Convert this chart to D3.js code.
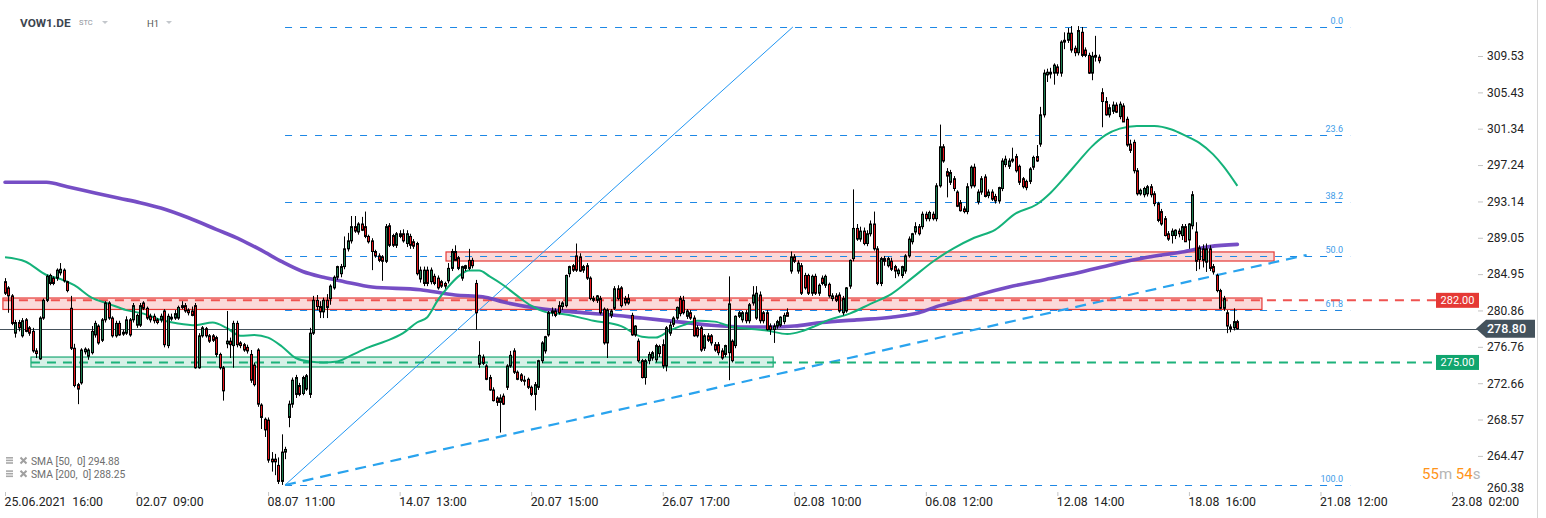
<!DOCTYPE html>
<html><head><meta charset="utf-8">
<script src="https://cdn.jsdelivr.net/npm/d3@7"></script>
<style>
html,body{margin:0;padding:0;background:#fff;}
svg{display:block;font-family:Roboto,"Noto Sans",sans-serif;}
text{white-space:pre;}
</style></head><body>
<svg id="c" width="1546" height="518"></svg>
<script>
// ---------- DATA ----------
// hourly candles [open, high, low, close]
const candles = [
[284.1,284.5,282.6,282.8],[283.4,283.6,280.6,282.5],[282.5,282.7,279.2,279.4],[278.3,279.8,277.8,279.5],[279.5,279.8,278.5,278.9],
[278.0,280.0,277.8,279.7],[279.8,280.0,278.4,278.5],[278.9,279.1,278.0,278.3],[278.5,278.9,276.1,276.3],[276.3,276.6,275.5,276.0],
[275.4,280.2,275.3,280.0],[280.0,282.2,279.8,282.0],[282.0,284.9,281.8,284.7],[283.9,285.0,283.7,284.8],[284.5,284.7,283.7,283.9],
[284.5,285.6,284.2,285.4],[285.1,286.2,284.8,285.5],[285.4,285.6,284.0,284.2],[284.1,284.2,282.9,283.1],[281.1,282.5,276.4,276.6],
[276.6,277.1,272.2,272.4],[272.5,272.7,270.3,272.0],[272.7,276.6,272.5,276.4],[276.2,276.7,275.9,276.5],[275.7,276.6,275.3,276.4],
[276.1,279.1,275.9,278.5],[278.1,279.7,277.8,279.4],[279.1,279.3,277.0,277.2],[277.5,280.0,277.3,279.8],[279.8,281.9,279.5,281.7],
[281.7,281.9,279.8,280.0],[280.0,280.2,277.8,278.0],[278.0,279.7,277.8,279.4],[279.4,279.7,278.0,278.1],[278.2,278.7,278.0,278.4],
[278.3,280.2,278.1,279.8],[279.8,280.0,277.9,278.1],[279.8,281.7,279.5,281.4],[279.2,280.5,278.9,280.3],[279.2,281.7,279.0,281.4],
[281.7,281.9,280.9,281.1],[281.1,281.3,279.8,280.0],[280.2,280.5,279.5,279.8],[280.2,280.5,279.4,279.7],[279.8,280.0,279.3,279.5],
[279.8,280.5,279.5,280.2],[280.8,281.0,276.7,277.0],[276.9,280.5,276.6,280.2],[279.9,280.5,279.7,280.1],[280.0,280.9,279.8,280.5],
[280.0,281.4,279.8,281.2],[281.4,281.9,281.0,281.2],[281.4,281.7,280.6,280.8],[280.9,281.1,280.3,280.6],[280.8,281.3,280.2,280.3],
[281.4,281.7,274.3,274.4],[274.4,278.3,274.3,278.0],[278.0,279.1,277.8,278.9],[278.8,279.0,277.8,278.0],[278.0,278.2,277.2,277.4],
[278.0,278.2,277.3,277.5],[277.8,278.0,275.6,275.9],[275.9,276.1,274.2,274.4],[274.4,274.6,270.7,271.8],[277.1,280.8,276.6,277.4],
[277.4,277.8,275.5,277.0],[276.9,279.7,274.4,279.4],[279.4,279.7,276.7,277.0],[277.2,277.4,276.6,276.9],[277.0,277.2,276.2,276.4],
[276.7,277.0,276.0,276.3],[275.9,276.4,272.7,273.0],[274.7,275.0,272.3,272.5],[276.4,276.6,270.0,270.3],[270.2,270.4,267.5,268.8],
[268.6,268.8,266.6,267.4],[268.5,268.8,263.7,264.0],[264.1,264.9,262.7,263.8],[264.1,264.7,262.3,263.8],[263.4,264.3,261.3,261.6],
[261.6,266.9,261.2,264.9],[264.9,265.5,264.1,265.2],[268.8,270.7,267.7,270.3],[270.3,273.3,269.9,273.0],[271.4,273.6,271.0,273.3],
[272.4,272.7,271.2,271.4],[271.5,273.5,271.3,273.3],[272.0,273.7,271.8,273.5],[271.4,278.9,271.0,278.3],[278.3,282.5,278.1,282.0],
[282.0,282.6,280.9,281.3],[281.3,281.9,280.0,280.7],[280.7,282.3,280.0,282.0],[282.0,282.7,280.0,281.2],[282.2,283.8,281.5,283.6],
[283.4,284.8,283.2,284.6],[284.6,285.9,284.3,285.8],[285.0,286.1,284.6,285.8],[285.8,289.2,285.5,287.8],[287.8,289.6,287.5,288.7],
[288.7,291.5,288.4,290.3],[290.3,291.5,289.6,289.8],[289.7,290.8,289.4,290.6],[290.6,291.4,289.8,289.9],[290.3,292.0,289.0,289.2],
[289.2,289.4,288.4,288.6],[288.7,289.0,285.4,287.5],[287.5,287.7,286.8,287.0],[287.0,287.3,286.3,286.5],[286.9,287.1,284.2,286.4],
[286.4,290.6,286.2,290.3],[290.4,290.7,288.0,288.2],[289.3,289.5,288.0,288.2],[288.2,289.7,287.9,289.5],[289.5,289.9,289.0,289.2],
[289.5,290.0,288.5,288.7],[288.4,289.9,288.0,289.5],[289.2,289.5,287.8,288.2],[288.6,288.9,287.8,288.1],[288.4,288.6,284.8,285.0],
[284.4,285.8,284.0,285.4],[283.9,285.8,283.6,285.4],[285.4,285.8,283.6,283.9],[284.1,285.7,283.8,285.4],[284.7,285.0,283.7,283.9],
[284.5,284.8,283.2,283.4],[284.1,284.3,283.4,283.6],[283.9,284.1,283.3,283.6],[284.2,286.2,283.9,285.6],[285.6,287.8,285.3,287.5],
[287.5,288.2,286.5,286.5],[286.8,287.0,285.4,285.6],[284.5,285.9,284.2,285.8],[285.6,286.0,285.3,285.9],[286.5,287.8,285.4,285.6],
[286.5,286.8,285.6,285.9],[283.9,284.3,278.7,280.6],[274.8,277.4,274.4,275.8],[275.6,275.9,274.7,274.9],[274.6,274.8,273.0,273.1],
[273.3,273.6,271.8,271.9],[271.9,272.2,270.6,270.7],[271.0,271.2,270.1,270.5],[270.5,271.4,267.1,271.0],[271.2,271.5,270.2,270.3],
[272.2,274.8,271.9,274.6],[274.6,276.3,274.4,275.8],[276.3,276.6,273.7,273.9],[273.9,274.1,273.0,273.1],[273.6,273.8,272.8,273.0],
[273.0,273.5,272.4,272.9],[273.1,273.3,272.0,272.2],[272.2,272.4,271.2,271.4],[271.4,272.8,269.6,272.5],[272.2,275.3,271.9,275.2],
[275.2,277.4,274.9,277.2],[276.3,278.0,276.0,277.9],[278.1,280.8,277.9,280.6],[280.6,281.2,280.2,280.8],[280.8,281.1,280.1,280.3],
[281.4,281.9,280.4,280.6],[281.3,281.9,280.9,281.7],[281.4,284.9,281.2,284.8],[285.0,285.9,284.6,285.8],[285.9,286.1,285.2,285.4],
[287.0,288.4,285.2,285.4],[286.9,287.3,285.2,285.3],[285.4,286.0,285.1,285.8],[285.9,286.2,284.3,284.5],[284.5,284.7,282.0,282.2],
[282.2,282.5,281.8,282.0],[282.0,282.6,281.7,282.5],[282.2,282.5,280.4,280.6],[281.0,281.2,277.0,277.2],[277.2,281.1,275.5,280.9],
[280.3,281.0,280.0,280.8],[281.1,283.6,280.9,283.3],[283.3,283.7,282.0,282.2],[283.4,283.6,281.2,281.4],[282.2,282.5,281.4,281.7],
[282.2,282.7,281.5,281.7],[280.3,280.6,278.0,278.1],[278.1,279.2,277.9,279.1],[277.4,277.7,275.0,275.2],[275.2,275.4,273.2,273.3],
[273.3,275.4,272.5,275.2],[275.2,276.2,274.8,275.9],[275.5,276.3,275.2,276.1],[275.3,277.1,275.0,276.9],[276.0,277.0,275.6,276.8],
[277.0,277.6,274.3,274.6],[274.6,279.1,274.0,278.9],[278.3,279.6,278.0,279.2],[279.3,280.2,279.0,280.0],[280.0,281.3,279.8,281.2],
[282.2,282.5,280.2,280.5],[282.0,282.5,280.4,280.6],[280.2,281.0,279.9,280.8],[280.6,280.9,279.8,280.0],[280.0,280.3,277.9,278.0],
[278.9,279.2,277.8,278.0],[278.9,279.1,276.2,276.4],[276.6,278.2,276.3,278.0],[278.0,278.3,277.3,277.5],[278.0,278.2,276.9,277.2],
[277.0,277.3,276.2,276.4],[277.0,277.3,275.8,276.1],[276.3,276.6,275.3,275.5],[275.9,277.0,275.6,276.9],[276.1,284.7,273.0,281.6],
[277.4,277.6,275.0,275.2],[276.9,280.3,276.6,280.2],[280.2,280.8,280.0,280.6],[279.8,280.8,279.5,280.6],[280.6,280.9,279.4,279.7],
[279.7,281.7,279.4,281.5],[281.7,283.6,281.4,282.6],[280.0,283.6,279.8,282.8],[282.6,283.0,279.4,279.7],[280.6,280.8,279.4,279.7],
[280.6,280.9,278.6,278.7],[279.1,279.4,278.1,278.7],[278.7,279.4,277.2,279.1],[279.1,279.8,278.8,279.6],[279.2,280.2,279.0,280.1],
[279.6,280.6,279.3,280.3],[280.6,281.1,280.2,280.2],[285.3,287.5,285.0,286.9],[286.9,287.2,286.2,286.4],[285.3,286.5,285.0,286.2],
[285.9,286.2,282.6,282.8],[284.8,285.1,283.2,283.4],[284.8,285.0,282.6,282.8],[282.8,284.9,282.5,284.7],[284.7,285.0,282.6,282.8],
[282.8,283.9,282.5,283.7],[284.5,284.8,283.7,283.9],[283.7,284.9,283.4,284.7],[283.8,284.0,282.3,282.5],[282.2,282.8,281.9,282.5],
[282.5,282.8,281.8,282.0],[282.6,282.9,280.6,280.8],[280.6,282.5,280.3,282.2],[280.8,283.5,280.6,283.4],[283.6,286.6,283.3,286.5],
[286.7,294.5,286.4,290.1],[290.1,290.6,288.7,288.9],[288.9,290.3,288.6,289.8],[289.8,290.2,288.2,288.4],[288.4,289.9,288.1,289.5],
[289.5,291.0,289.2,290.6],[290.6,292.0,287.6,287.8],[287.8,288.1,283.7,283.9],[283.9,286.9,283.6,286.7],[286.7,287.0,285.9,286.4],
[285.9,286.9,285.7,286.7],[286.4,286.8,285.3,285.5],[285.8,286.0,284.5,285.3],[285.0,285.6,284.7,285.4],[284.8,285.9,284.5,285.8],
[285.3,287.2,285.0,287.0],[287.0,289.2,286.8,288.9],[288.6,289.6,288.3,289.5],[289.7,290.8,289.4,290.3],[290.3,290.6,289.3,289.5],
[290.3,292.0,290.0,291.7],[291.7,292.0,290.9,291.2],[291.2,292.1,290.9,291.9],[291.7,292.0,291.0,291.2],[291.2,295.2,290.9,294.9],
[294.9,301.8,294.7,299.3],[299.3,299.6,297.5,297.7],[296.5,296.9,293.6,296.0],[295.3,296.7,295.0,296.4],[295.7,296.0,294.3,294.6],
[294.2,294.4,292.5,292.6],[293.0,293.3,292.0,292.1],[292.3,292.6,291.8,292.0],[292.0,295.2,291.7,294.8],[294.9,297.2,294.6,297.0],
[297.0,297.4,294.7,294.9],[293.1,294.5,292.8,294.2],[294.2,296.0,293.9,295.7],[295.9,296.2,293.6,293.7],[293.8,294.5,293.5,294.2],
[294.2,294.5,293.2,293.4],[293.7,294.0,292.9,293.2],[293.2,294.8,292.9,294.7],[294.6,298.0,294.3,297.7],[297.3,298.3,297.0,297.9],
[297.1,298.0,296.8,297.7],[297.9,299.2,297.5,297.7],[298.2,298.5,296.4,296.6],[297.1,297.3,295.0,295.3],[295.7,295.9,294.6,294.8],
[295.4,295.6,294.4,294.7],[295.4,297.0,295.1,296.8],[297.0,298.3,296.7,298.1],[298.2,299.5,297.6,297.7],[299.6,303.8,299.3,302.9],
[302.9,308.0,302.6,307.6],[307.4,308.1,306.6,307.7],[307.7,308.2,307.0,307.5],[307.6,308.7,306.3,308.5],[308.3,308.6,307.3,307.6],
[307.6,311.3,307.2,311.1],[311.1,312.2,310.3,311.3],[311.3,312.7,311.0,312.1],[312.1,312.9,309.9,310.2],[310.4,310.7,309.5,309.9],
[309.9,312.9,309.6,312.4],[312.2,312.8,309.4,309.6],[310.2,310.5,309.4,309.6],[309.6,309.9,307.5,307.6],[307.6,310.0,306.8,309.5],
[309.6,311.8,308.9,309.4],[309.4,309.7,308.7,309.0],[305.4,305.9,301.5,304.4],[304.4,304.9,302.8,302.9],[302.9,304.1,302.6,303.7],
[303.3,304.4,303.0,304.0],[304.0,304.3,303.1,303.2],[302.7,304.4,302.4,304.1],[303.9,304.2,302.1,302.1],[302.4,302.7,299.3,299.5],
[299.6,300.1,298.6,298.9],[299.8,300.1,296.3,296.6],[296.6,296.9,293.8,294.0],[294.0,294.6,293.8,294.4],[293.9,294.8,293.6,294.6],
[294.0,295.0,293.7,294.8],[294.8,295.1,293.6,293.9],[294.0,294.3,292.6,292.9],[292.9,293.1,290.8,291.0],[292.0,292.3,290.4,290.6],
[291.2,291.5,289.2,289.3],[289.5,289.8,288.7,288.9],[289.3,290.1,288.4,289.8],[289.3,290.0,288.9,289.9],[289.8,290.1,289.1,289.5],
[289.3,290.6,288.8,290.3],[290.3,290.6,288.6,288.6],[288.8,290.7,287.8,290.6],[290.4,294.3,290.0,293.9],[289.7,290.8,285.3,286.4],
[286.6,288.2,285.5,287.9],[287.8,288.3,285.7,286.5],[286.3,288.4,285.2,287.8],[287.8,288.2,285.3,285.6],[285.8,286.1,284.9,285.2],
[284.8,285.0,282.9,283.1],[283.1,283.3,281.0,281.1],[281.1,282.5,280.8,282.2],[280.6,280.9,278.3,279.1],[279.0,279.3,278.4,278.8],
[278.9,281.1,278.6,279.6],[279.6,279.8,278.7,278.8]
];
const xTickBars = [0,38,76,114,152,190,228,266,304,342,380,418];
const xTickLabels = ["25.06.2021  16:00","02.07  09:00","08.07  11:00","14.07  13:00","20.07  15:00","26.07  17:00","02.08  10:00","06.08  12:00","12.08  14:00","18.08  16:00","21.08  12:00","23.08  02:00"];
const yTicks = [309.53,305.43,301.34,297.24,293.14,289.05,284.95,280.86,276.76,272.66,268.57,264.47,260.38];
const sma50Bars = [0,6,12,16,20,25,30,35,40,45,50,55,60,64,68,72,76,80,84,88,92,96,100,105,110,115,119,122,125,128,131,134,137,140,144,148,152,156,162,170,178,184,188,192,196,200,205,210,215,220,226,230,234,238,244,250,256,262,268,274,280,286,292,298,302,306,310,314,318,322,327,332,337,341,345,349,352,356];
const sma50Vals = [286.85,286.35,284.85,284.4,283.7,282.3,281.6,280.9,280.5,279.8,279.4,279.2,279.5,278.9,278.0,278.1,277.8,276.8,275.5,275.1,275.0,275.1,275.8,276.7,277.4,278.3,279.5,280.1,282.0,283.5,284.7,285.35,285.35,284.7,283.7,282.5,281.4,280.7,280.4,279.7,279.1,277.9,277.8,278.6,279.2,279.7,279.6,279.0,278.8,278.6,278.2,278.5,279.1,279.8,280.5,281.6,282.7,284.5,286.35,287.85,289.05,289.95,291.8,292.8,294.1,295.8,297.6,299.35,300.65,301.35,301.65,301.65,301.25,300.55,299.75,298.45,297.1,294.9];
const sma200Bars = [0,12,18,26,33,39,45,53,61,68,74,80,86,92,98,106,120,130,138,144,154,164,174,184,194,204,214,222,228,236,246,256,264,270,276,282,290,300,310,320,330,340,348,356];
const sma200Vals = [295.3,295.3,294.8,294.1,293.5,293.0,292.4,291.3,290.0,288.85,287.65,286.35,285.25,284.6,284.1,283.5,283.2,282.6,282.4,281.8,281.1,280.7,280.4,280.0,279.6,279.2,279.0,279.0,279.1,279.5,279.8,280.1,280.6,281.4,282.0,282.7,283.5,284.3,285.1,286.05,286.85,287.45,288.05,288.3];
const fibRatios = [0, 23.6, 38.2, 50, 61.8, 100];
const fibLabels = ["0.0","23.6","38.2","50.0","61.8","100.0"];
const fibHigh = 312.80, fibLow = 261.19;
const fibBars = [80.9, 227.6];      // anchor bars of the fibonacci tool (low, high)
const fibExtendBar = 388.6;
const trendBars = [80.9, 376];      // dashed trend line
const trendPrices = [261.19, 287.11];
const redZoneLow = [280.97, 282.26], redZoneLowBars = [-0.6, 363.1];
const redZoneHigh = [286.43, 287.45], redZoneHighBars = [127.4, 366.6];
const greenZone = [274.49, 275.61], greenZoneBars = [7.5, 221.9];
const levelRed = 282.00, levelGreen = 275.00, lastPrice = 278.80;
const smaLegend = ["SMA [50,  0] 294.88", "SMA [200,  0] 288.25"];

// ---------- CHART ----------
const svg = d3.select('#c');
const x = d3.scaleLinear().domain([0, 418]).range([5, 1452]);
const y = d3.scaleLinear().domain([260.38, 309.53]).range([492.2, 56]);
const axisX = 1478;

svg.append('rect').attr('width',1546).attr('height',518).attr('fill','#fff');

// zones
function zone(bars, pr, fill, stroke){
  svg.append('rect')
    .attr('x', x(bars[0])).attr('width', x(bars[1]) - x(bars[0]))
    .attr('y', y(pr[1])).attr('height', y(pr[0]) - y(pr[1]))
    .attr('fill', fill).attr('stroke', stroke).attr('stroke-width', 1.2);
}
zone(redZoneLowBars, redZoneLow, 'rgba(239,83,80,0.22)', '#e53935');
zone(redZoneHighBars, redZoneHigh, 'rgba(239,83,80,0.22)', '#e53935');
zone(greenZoneBars, greenZone, 'rgba(26,178,122,0.18)', '#1aa872');

// last price line
svg.append('line').attr('x1',0).attr('x2',axisX).attr('y1',Math.round(y(lastPrice))+0.5).attr('y2',Math.round(y(lastPrice))+0.5)
  .attr('stroke','#46525c').attr('stroke-width',1);

// fib levels
const fg = svg.append('g');
fibRatios.forEach((r,i)=>{
  const p = fibHigh - r/100*(fibHigh-fibLow);
  const yy = Math.round(y(p))+0.5;
  fg.append('line').attr('x1',x(fibBars[0])).attr('x2',x(fibExtendBar)).attr('y1',yy).attr('y2',yy)
    .attr('stroke','#1e88e5').attr('stroke-width',1).attr('stroke-dasharray','7,8');
  fg.append('text').attr('x',1343).attr('y',yy-4).attr('text-anchor','end')
    .attr('fill','#3d9be9').style('font-size','9px').text(fibLabels[i]);
});
// fib diagonal
svg.append('line').attr('x1',x(fibBars[0])).attr('y1',y(fibLow)).attr('x2',x(fibBars[1])).attr('y2',y(fibHigh))
  .attr('stroke','#2196f3').attr('stroke-width',1);
// dashed trend line
svg.append('line').attr('x1',x(trendBars[0])).attr('y1',y(trendPrices[0])).attr('x2',x(trendBars[1])).attr('y2',y(trendPrices[1]))
  .attr('stroke','#29a3ee').attr('stroke-width',2.2).attr('stroke-dasharray','11,7');

// horizontal level lines
svg.append('line').attr('x1',x(redZoneLowBars[0])).attr('x2',1436).attr('y1',y(levelRed)).attr('y2',y(levelRed))
  .attr('stroke','#ef5350').attr('stroke-width',2).attr('stroke-dasharray','9,7');
svg.append('line').attr('x1',x(greenZoneBars[0])).attr('x2',1436).attr('y1',y(levelGreen)).attr('y2',y(levelGreen))
  .attr('stroke','#1db27a').attr('stroke-width',2).attr('stroke-dasharray','9,7');

// SMAs
const ln = d3.line().x(d=>x(d[0])).y(d=>y(d[1])).curve(d3.curveMonotoneX);
svg.append('path').datum(d3.zip(sma200Bars, sma200Vals)).attr('d', ln)
  .attr('fill','none').attr('stroke','#6a3fc0').attr('stroke-width',3.6).attr('stroke-opacity',0.92).attr('stroke-linecap','round');
svg.append('path').datum(d3.zip(sma50Bars, sma50Vals)).attr('d', ln)
  .attr('fill','none').attr('stroke','#14b27a').attr('stroke-width',2);

// candles
const cg = svg.append('g').selectAll('g').data(candles).join('g');
cg.append('line')
  .attr('x1',(d,i)=>Math.round(x(i))+0.5).attr('x2',(d,i)=>Math.round(x(i))+0.5)
  .attr('y1',d=>y(d[1])).attr('y2',d=>y(d[2])).attr('stroke','#000').attr('stroke-width',1);
cg.append('rect')
  .attr('x',(d,i)=>Math.round(x(i))-0.5).attr('width',2)
  .attr('y',d=>y(Math.max(d[0],d[3])))
  .attr('height',d=>Math.max(1, Math.abs(y(d[0])-y(d[3]))))
  .attr('fill',d=>d[3]>=d[0] ? '#1f7d50' : '#e3161c')
  .attr('stroke','#000').attr('stroke-width',1);

// price tags
function tag(val, color){
  const yy = y(val);
  svg.append('rect').attr('x',1436).attr('y',yy-7.5).attr('width',43).attr('height',15).attr('fill',color);
  svg.append('text').attr('x',1457.5).attr('y',yy+4).attr('text-anchor','middle').attr('fill','#fff')
    .style('font-size','11px').text(val.toFixed(2));
}
tag(levelRed, '#e53935');
tag(levelGreen, '#11a56e');
{
  const yy = y(lastPrice);
  svg.append('path').attr('d',`M${axisX-2},${yy} L${axisX+8},${yy-9} L1535,${yy-9} L1535,${yy+9} L${axisX+8},${yy+9} Z`)
    .attr('fill','#44525c');
  svg.append('text').attr('x',1487).attr('y',yy+4.5).attr('fill','#fff').style('font-size','12.5px').style('font-weight','500')
    .text(lastPrice.toFixed(2));
}

// y axis
const ya = svg.append('g').attr('transform',`translate(${axisX},0)`)
  .call(d3.axisRight(y).tickValues(yTicks).tickFormat(d3.format('.2f')).tickSize(5).tickPadding(4));
ya.select('.domain').remove();
ya.selectAll('line').attr('stroke','#c4c4c4');
ya.selectAll('text').attr('fill','#222').style('font-size','12px').style('font-family','Roboto');
ya.selectAll('.tick').filter(d=>d===260.38).each(function(){
  d3.select(this).select('line').remove();
  d3.select(this).select('text').attr('dy','-0.1em');
});

// x axis
const xa = svg.append('g').attr('transform','translate(0,492)')
  .call(d3.axisBottom(x).tickValues(xTickBars).tickFormat((d,i)=>xTickLabels[i]).tickSize(4).tickPadding(1));
xa.select('.domain').remove();
xa.selectAll('line').attr('stroke','#c4c4c4');
xa.selectAll('text').attr('text-anchor','start').attr('x',-1).attr('fill','#222')
  .style('font-size','12.3px').style('font-family','Roboto');

// right border
svg.append('line').attr('x1',1537.5).attr('x2',1537.5).attr('y1',0).attr('y2',518).attr('stroke','#d6d6d6');

// header
svg.append('text').attr('x',20).attr('y',26.5).attr('fill','#3d4650').style('font-size','11.8px').style('font-weight','bold').text('VOW1.DE');
svg.append('text').attr('x',79).attr('y',25).attr('fill','#8d939b').style('font-size','7.5px').text('STC');
svg.append('text').attr('x',147).attr('y',27).attr('fill','#555').style('font-size','9.5px').text('H1');
[[102,21],[166,21]].forEach(p=>{
  svg.append('path').attr('d',`M${p[0]},${p[1]} L${p[0]+6},${p[1]} L${p[0]+3},${p[1]+3} Z`).attr('fill','#c3c7cc');
});

// legend
smaLegend.forEach((t,i)=>{
  const cy = 461 + i*13.3;
  const lg = svg.append('g');
  [0,2.6,5.2].forEach(o=>lg.append('rect').attr('x',6).attr('y',cy-4+o).attr('width',7).attr('height',1.6).attr('fill','#a9a9a9'));
  lg.append('path').attr('d',`M20.5,${cy-3.5} L26.5,${cy+2.5} M26.5,${cy-3.5} L20.5,${cy+2.5}`).attr('stroke','#a0a0a0').attr('stroke-width',2);
  lg.append('text').attr('x',31).attr('y',cy+3.6).attr('fill','#6e6e6e').style('font-size','10.3px').text(t);
});

// countdown
const cd = svg.append('text').attr('x',1422).attr('y',479).style('font-size','15px');
cd.append('tspan').attr('fill','#ff9419').text('55');
cd.append('tspan').attr('fill','#b5b5b5').text('m ');
cd.append('tspan').attr('fill','#ff9419').text('54');
cd.append('tspan').attr('fill','#b5b5b5').text('s');
</script>
</body></html>
